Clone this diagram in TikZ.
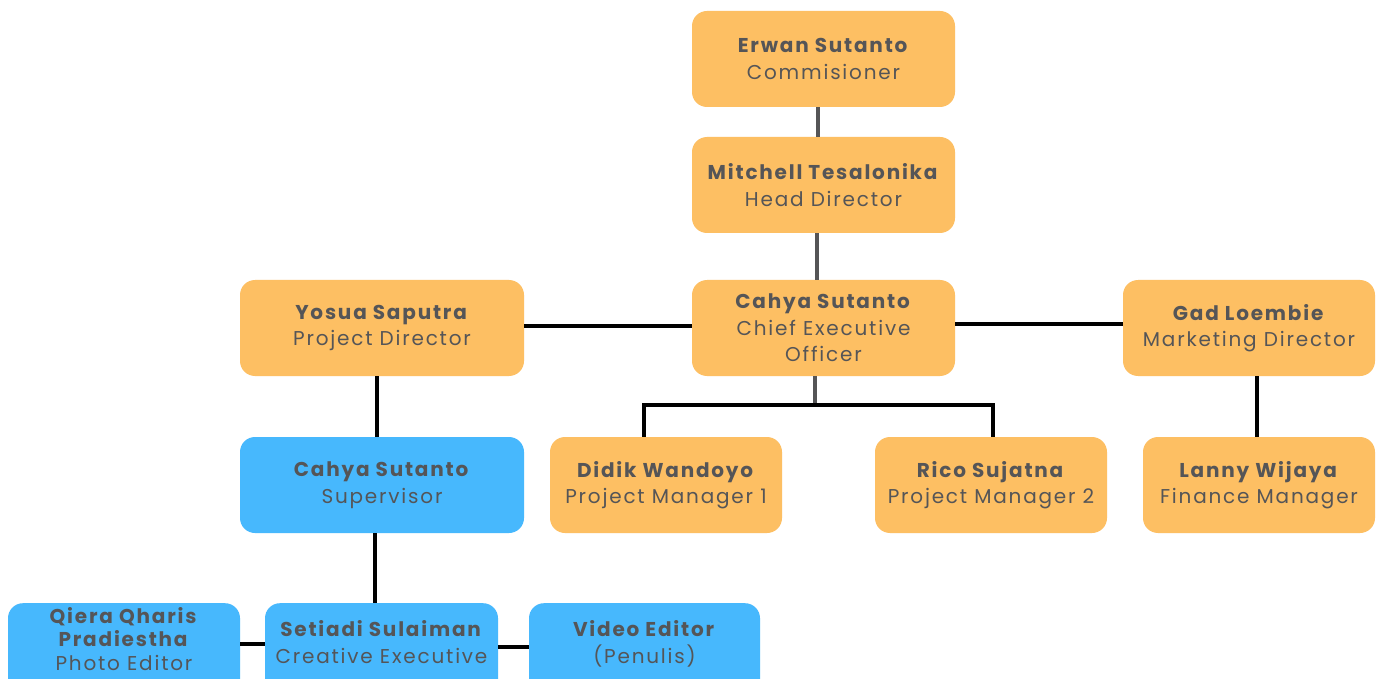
\documentclass[tikz,border=0pt]{standalone}
\usepackage{fontspec}
\setmainfont{Poppins}[LetterSpace=9]
\definecolor{orangebox}{HTML}{FDBF63}
\definecolor{bluebox}{HTML}{47B8FD}
\definecolor{txt}{HTML}{555557}
\definecolor{grayline}{HTML}{555557}
\begin{document}
\begin{tikzpicture}[x=1pt,y=-1pt,
  tstyle/.style={align=center, text=txt, inner sep=0pt, font=\fontsize{20}{26.5}\selectfont},
  box/.style={rounded corners=15pt, minimum width=#1, minimum height=96pt, inner sep=0pt, tstyle},
  obox/.style={box=#1, fill=orangebox},
  bbox/.style={box=#1, fill=bluebox},
  conn/.style={line width=3.5pt, black},
  gconn/.style={line width=3.5pt, grayline}]
\clip (0,0) rectangle (1382,679);
\useasboundingbox (0,0) rectangle (1382,679);
\fill[white] (0,0) rectangle (1382,679);

\node[obox=263pt] (erwan) at (823.5,59) {\textbf{Erwan Sutanto}\\Commisioner};
\node[obox=263pt] (mitchell) at (823.5,185) {\textbf{Mitchell Tesalonika}\\Head Director};
\node[obox=263pt] (ceo) at (823.5,328) {\textbf{Cahya Sutanto}\\Chief Executive\\Officer};
\node[obox=284pt] (yosua) at (382,328) {\textbf{Yosua Saputra}\\Project Director};
\node[obox=252pt] (gad) at (1249,328) {\textbf{Gad Loembie}\\Marketing Director};
\node[bbox=284pt] (sup) at (382,485) {\textbf{Cahya Sutanto}\\Supervisor};
\node[obox=232pt] (didik) at (666,485) {\textbf{Didik Wandoyo}\\Project Manager 1};
\node[obox=232pt] (rico) at (991,485) {\textbf{Rico Sujatna}\\Project Manager 2};
\node[obox=232pt] (lanny) at (1259,485) {\textbf{Lanny Wijaya}\\Finance Manager};

\node[bbox=232pt, anchor=north] (qiera) at (124,603) {};
\node[bbox=233pt, anchor=north] (setiadi) at (381.5,603) {};
\node[bbox=231pt, anchor=north] (video) at (644.5,603) {};
\node[tstyle, font=\fontsize{20}{23.5}\selectfont] (qieraT) at (124,639) {\textbf{Qiera Qharis}\\\textbf{Pradiestha}\\Photo Editor};
\node[tstyle] (setiadiT) at (381.5,642) {\textbf{Setiadi Sulaiman}\\Creative Executive};
\node[tstyle] (videoT) at (644.5,644) {\textbf{Video Editor}\\(Penulis)};

\draw[gconn] ([xshift=-5.5pt]erwan.south) -- ([xshift=-5.5pt]mitchell.north);
\draw[gconn] ([xshift=-6.5pt]mitchell.south) -- ([xshift=-6.5pt]ceo.north);
\draw[conn] ([yshift=2pt]yosua.east) -- ([yshift=2pt]ceo.west);
\draw[conn] ([yshift=4pt]ceo.east) -- ([yshift=4pt]gad.west);
\coordinate (bl) at (644,405);
\coordinate (br) at (993,405);
\draw[gconn] ([xshift=-8.5pt]ceo.south) -- ([xshift=-8.5pt]ceo.south |- bl);
\draw[conn] ([xshift=-1.75pt]bl) -- ([xshift=1.75pt]br);
\draw[conn] (bl) -- (bl |- didik.north);
\draw[conn] (br) -- (br |- rico.north);
\draw[conn] ([xshift=-5pt]yosua.south) -- ([xshift=-5pt]sup.north);
\draw[conn] ([xshift=-2pt]lanny.north) -- ([xshift=-2pt]lanny.north |- gad.south);
\draw[conn] ([xshift=-7pt]sup.south) -- ([xshift=-7pt]sup.south |- setiadi.north);
\draw[conn] (qiera.east |- 0,644) -- (setiadi.west |- 0,644);
\draw[conn] (setiadi.east |- 0,647) -- (video.west |- 0,647);
\end{tikzpicture}
\end{document}
